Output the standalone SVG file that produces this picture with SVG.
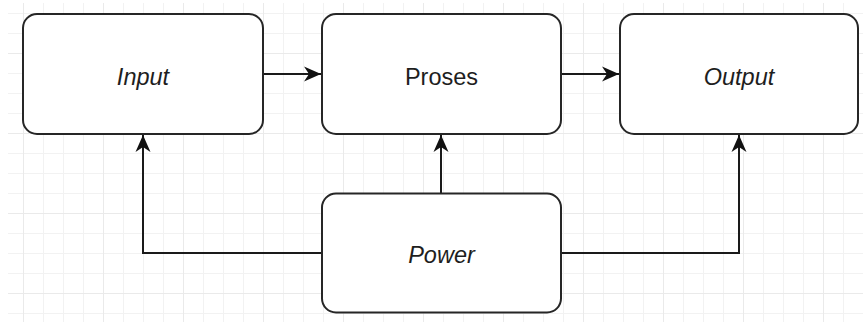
<svg xmlns="http://www.w3.org/2000/svg" width="863" height="322" viewBox="0 0 863 322">
  <defs>
    <!-- light drawing grid: minor every 20px, major every 80px -->
    <pattern id="gridMinor" patternUnits="userSpaceOnUse" x="3" y="13" width="20" height="20">
      <path d="M0 0.5 H20 M0.5 0 V20" fill="none" stroke="#f2f2f2" stroke-width="1"/>
    </pattern>
    <pattern id="gridMajor" patternUnits="userSpaceOnUse" x="23" y="53" width="80" height="80">
      <path d="M0 0.5 H80 M0.5 0 V80" fill="none" stroke="#eaeaea" stroke-width="1"/>
    </pattern>
    <marker id="arrow" markerUnits="userSpaceOnUse" viewBox="-17 -8 18 16" refX="0" refY="0" markerWidth="18" markerHeight="16" orient="auto">
      <path d="M0,0 L-17,-7.5 L-12,0 L-17,7.5 Z" fill="#111"/>
    </marker>
    <style>
      .node rect { fill: #ffffff; stroke: #262626; stroke-width: 2; }
      .node text { font-family: "Liberation Sans", Arial, sans-serif; font-size: 23.5px; fill: #1e1e1e; text-anchor: middle; }
      .node text.em { font-style: italic; }
      .edge { fill: none; stroke: #1a1a1a; stroke-width: 2; marker-end: url(#arrow); }
    </style>
  </defs>

  <rect width="863" height="322" fill="#ffffff"/>
  <rect x="8" y="3" width="855" height="319" fill="url(#gridMinor)"/>
  <rect x="8" y="3" width="855" height="319" fill="url(#gridMajor)"/>

  <g id="connectors">
    <path class="edge" d="M263,74 H321"/>
    <path class="edge" d="M561,74 H619"/>
    <path class="edge" d="M322,253 H143 V135"/>
    <path class="edge" d="M441,193 V135"/>
    <path class="edge" d="M561,253 H739 V135"/>
  </g>

  <g id="input" class="node">
    <rect x="23" y="14" width="240" height="120" rx="14" ry="14"/>
    <text class="em" x="143" y="85">Input</text>
  </g>
  <g id="proses" class="node">
    <rect x="322" y="14" width="239" height="120" rx="14" ry="14"/>
    <text x="441.5" y="85">Proses</text>
  </g>
  <g id="output" class="node">
    <rect x="620" y="14" width="238" height="120" rx="14" ry="14"/>
    <text class="em" x="739" y="85">Output</text>
  </g>
  <g id="power" class="node">
    <rect x="322" y="193.5" width="239" height="119" rx="14" ry="14"/>
    <text class="em" x="441.5" y="262.5">Power</text>
  </g>
</svg>
